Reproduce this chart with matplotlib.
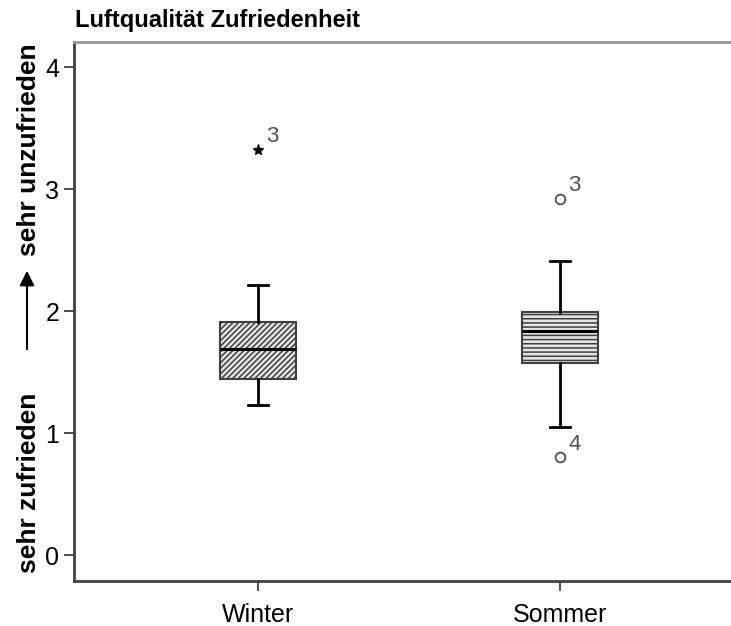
import matplotlib.pyplot as plt
from matplotlib.patches import FancyArrowPatch

plt.rcParams['font.family'] = ['Liberation Sans', 'DejaVu Sans']
plt.rcParams['hatch.linewidth'] = 1.1
plt.rcParams['hatch.color'] = '#4a4a4a'

# Boxplot-Kennwerte
categories = ['Winter', 'Sommer']
whisk_lo = [1.23, 1.05]
q1 = [1.44, 1.57]
median = [1.69, 1.84]
q3 = [1.91, 1.99]
whisk_hi = [2.21, 2.41]

# Ausreisser: (Gruppe, Wert, Fallnummer, Typ)
outlier_group = [0, 1, 1]
outlier_value = [3.32, 2.92, 0.80]
outlier_case = ['3', '3', '4']
outlier_kind = ['extreme', 'mild', 'mild']

hatches = ['//////', '----']

fig = plt.figure(figsize=(7.31, 6.26), dpi=100)
ax = fig.add_axes([74 / 731, 45 / 626, 657 / 731, 539 / 626])

stats = []
for i, name in enumerate(categories):
    stats.append(dict(label=name, whislo=whisk_lo[i], q1=q1[i], med=median[i],
                      q3=q3[i], whishi=whisk_hi[i], fliers=[]))

bp = ax.bxp(stats, positions=[1, 2], widths=0.25, patch_artist=True,
            showfliers=False,
            boxprops=dict(edgecolor='#404040', linewidth=1.5),
            medianprops=dict(color='black', linewidth=2.2),
            whiskerprops=dict(color='black', linewidth=2),
            capprops=dict(color='black', linewidth=2),
            capwidths=0.065)
for box, h in zip(bp['boxes'], hatches):
    box.set_facecolor('#e4e4e4')
    box.set_hatch(h)

for g, v, c, k in zip(outlier_group, outlier_value, outlier_case, outlier_kind):
    if k == 'extreme':
        ax.plot(g + 1, v, marker='*', color='black', markersize=8, linestyle='none')
    else:
        ax.plot(g + 1, v, marker='o', markerfacecolor='white', markeredgecolor='#505050',
                markersize=7, markeredgewidth=1.3, linestyle='none')
    ax.annotate(c, (g + 1, v), xytext=(6, 2), textcoords='offset points',
                fontsize=16, color='#505050', va='bottom', ha='left')

ax.set_xlim(0.391, 2.566)
ax.set_ylim(-0.213, 4.205)
ax.set_yticks([0, 1, 2, 3, 4])
ax.set_xticks([1, 2])
ax.set_xticklabels(categories)
ax.tick_params(axis='both', labelsize=18, length=7, width=1.3, color='#404040')
ax.tick_params(axis='x', pad=9)

ax.spines['right'].set_visible(False)
ax.spines['left'].set_color('#404040')
ax.spines['bottom'].set_color('#404040')
ax.spines['top'].set_color('#999999')
for s in ['left', 'bottom', 'top']:
    ax.spines[s].set_linewidth(2)

fig.text(75 / 731, 1 - 20 / 626, 'Luftqualität Zufriedenheit', fontsize=17,
         fontweight='bold', ha='left', va='center')

fig.text(29 / 731, 1 - 483 / 626, 'sehr zufrieden', rotation=90, fontsize=19,
         fontweight='bold', ha='center', va='center')
fig.text(29 / 731, 1 - 150 / 626, 'sehr unzufrieden', rotation=90, fontsize=19,
         fontweight='bold', ha='center', va='center')
arrow = FancyArrowPatch((27 / 731, 1 - 352 / 626), (27 / 731, 1 - 268 / 626),
                        transform=fig.transFigure, arrowstyle='-|>',
                        mutation_scale=22, color='black', linewidth=1.5)
fig.patches.append(arrow)

fig.savefig('out.png', dpi=100, facecolor='white')
